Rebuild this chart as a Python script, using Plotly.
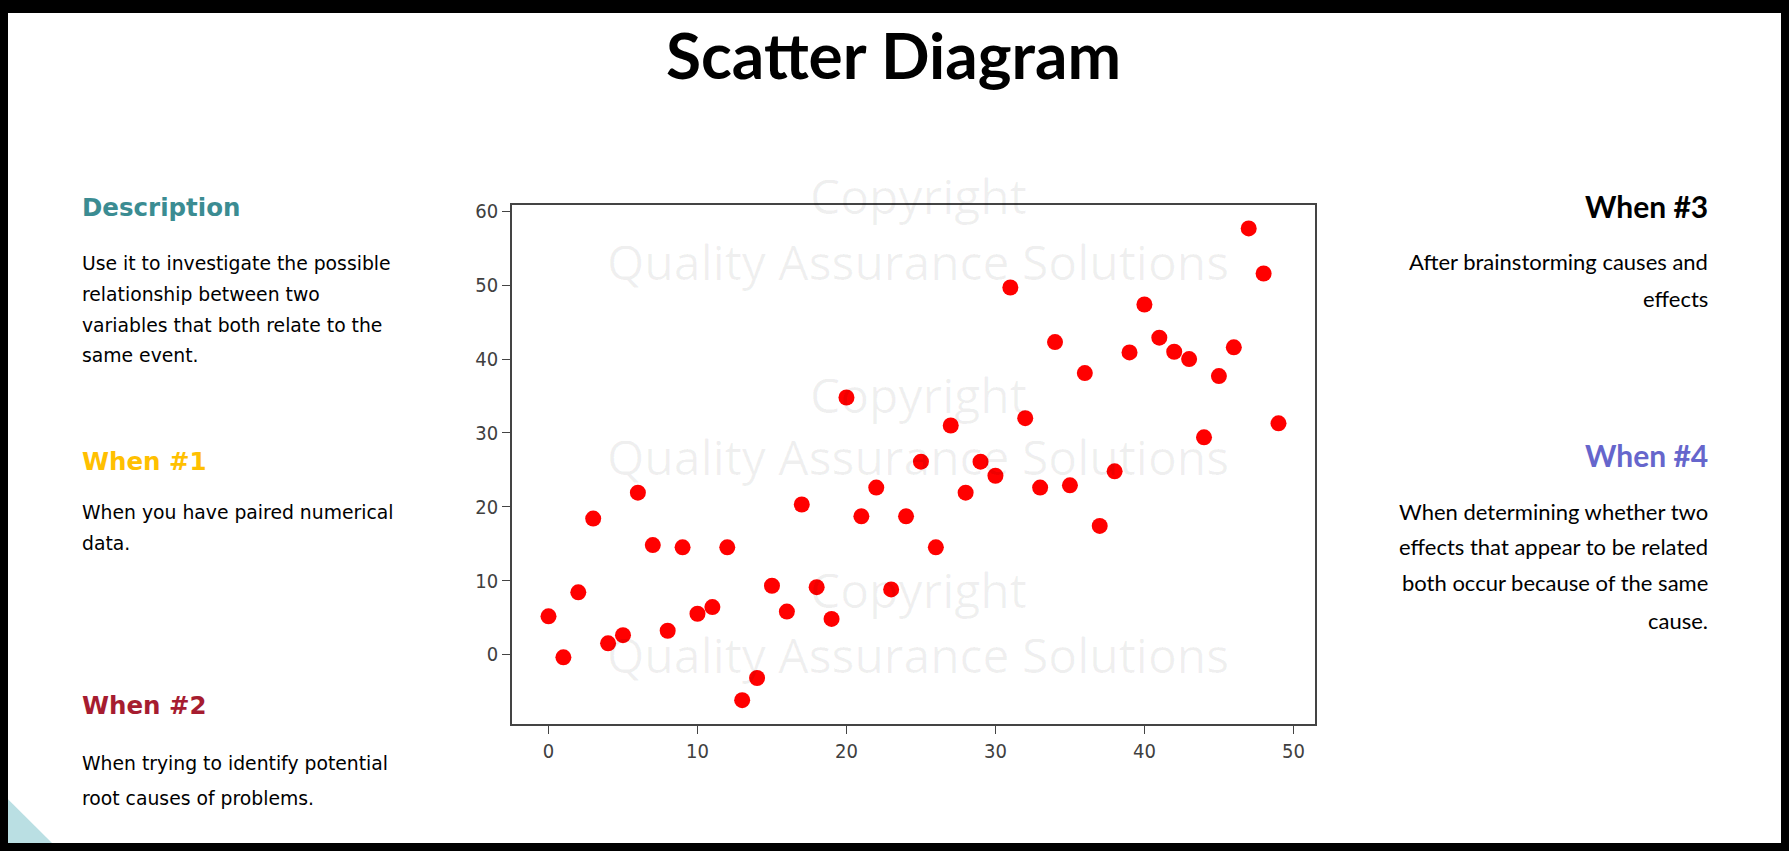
import plotly.graph_objects as go

W, H = 1789, 851

# ---- data ----
x_values = [0, 1, 2, 3, 4, 5, 6, 7, 8, 9, 10, 11, 12, 13, 14, 15, 16, 17, 18, 19,
            20, 21, 22, 23, 24, 25, 26, 27, 28, 29, 30, 31, 32, 33, 34, 35, 36, 37, 38, 39,
            40, 41, 42, 43, 44, 45, 46, 47, 48, 49]
y_values = [5.15, -0.4, 8.4, 18.4, 1.5, 2.6, 21.9, 14.8, 3.2, 14.5,
            5.5, 6.4, 14.5, -6.2, -3.2, 9.3, 5.8, 20.3, 9.1, 4.8,
            34.8, 18.7, 22.6, 8.8, 18.7, 26.1, 14.5, 31.0, 21.9, 26.1,
            24.2, 49.7, 32.0, 22.6, 42.3, 22.9, 38.1, 17.4, 24.8, 40.9,
            47.4, 42.9, 41.0, 40.0, 29.4, 37.7, 41.6, 57.7, 51.6, 31.3]
x_ticks = [0, 10, 20, 30, 40, 50]
y_ticks = [0, 10, 20, 30, 40, 50, 60]

title_text = "Scatter Diagram"
left_blocks = [
    ("Description", "#3B8C92", ["Use it to investigate the possible",
                                "relationship between two",
                                "variables that both relate to the",
                                "same event."]),
    ("When #1", "#FFC000", ["When you have paired numerical", "data."]),
    ("When #2", "#A61C30", ["When trying to identify potential",
                            "root causes of problems."]),
]
right_blocks = [
    ("When #3", "#000000", ["After brainstorming causes and", "effects"]),
    ("When #4", "#6666CC", ["When determining whether two",
                            "effects that appear to be related",
                            "both occur because of the same",
                            "cause."]),
]
watermark = ["Copyright", "Quality Assurance Solutions"]


def px(x):
    return x / W


def py(y):
    return 1 - y / H


fig = go.Figure()
fig.add_trace(go.Scatter(
    x=x_values, y=y_values, mode="markers",
    marker=dict(color="#FF0000", size=16, line=dict(width=0)),
    hoverinfo="x+y", showlegend=False,
))

annotations = []
# title
annotations.append(dict(
    text="<b>" + title_text + "</b>", x=px(893), y=py(50), xref="paper", yref="paper",
    xanchor="center", yanchor="middle", showarrow=False,
    font=dict(family="Lato, Roboto, sans-serif", size=64, color="#000000")))

# left column
left_pos = [(204, [260, 291, 322, 353]), (459, [511, 542]), (705, [763, 798])]
for (head, col, lines), (hy, lys) in zip(left_blocks, left_pos):
    annotations.append(dict(
        text="<b>" + head + "</b>", x=px(80), y=py(hy), xref="paper", yref="paper",
        xanchor="left", yanchor="middle", showarrow=False,
        font=dict(family="DejaVu Sans, Verdana, sans-serif", size=24.5, color=col)))
    for line, ly in zip(lines, lys):
        annotations.append(dict(
            text=line, x=px(80), y=py(ly), xref="paper", yref="paper",
            xanchor="left", yanchor="middle", showarrow=False,
            font=dict(family="DejaVu Sans, Verdana, sans-serif", size=18.8, color="#000000")))

# right column
right_pos = [(202, [258, 295]), (453, [509, 545, 581, 619])]
for (head, col, lines), (hy, lys) in zip(right_blocks, right_pos):
    annotations.append(dict(
        text="<b>" + head + "</b>", x=px(1710), y=py(hy), xref="paper", yref="paper",
        xanchor="right", yanchor="middle", showarrow=False,
        font=dict(family="Lato, Open Sans, sans-serif", size=30, color=col)))
    for line, ly in zip(lines, lys):
        annotations.append(dict(
            text=line, x=px(1710), y=py(ly), xref="paper", yref="paper",
            xanchor="right", yanchor="middle", showarrow=False,
            font=dict(family="Lato, Open Sans, sans-serif", size=22, color="#000000")))

# faint watermark
for cy, qy in [(192, 258), (392, 454), (588, 653)]:
    annotations.append(dict(
        text=watermark[0], x=px(918), y=py(cy), xref="paper", yref="paper",
        xanchor="center", yanchor="middle", showarrow=False,
        font=dict(family="Open Sans, sans-serif", size=48, color="rgba(0,0,0,0.06)")))
    annotations.append(dict(
        text=watermark[1], x=px(918), y=py(qy), xref="paper", yref="paper",
        xanchor="center", yanchor="middle", showarrow=False,
        font=dict(family="Open Sans, sans-serif", size=48, color="rgba(0,0,0,0.06)")))

shapes = [
    # white slide inside black border
    dict(type="rect", xref="paper", yref="paper", x0=px(8), x1=px(1781), y0=py(843), y1=py(8),
         fillcolor="#FFFFFF", line=dict(width=0), layer="below"),
    # light blue corner triangle
    dict(type="path", xref="paper", yref="paper",
         path=f"M {px(8)} {py(799)} L {px(52)} {py(843)} L {px(8)} {py(843)} Z",
         fillcolor="#BADFE3", line=dict(width=0), layer="below"),
]

axis_common = dict(
    showline=True, mirror=True, linecolor="#444444", linewidth=1.6,
    showgrid=False, zeroline=False, ticks="outside", ticklen=8, tickwidth=1.4,
    tickcolor="#444444",
    tickfont=dict(family="DejaVu Sans Condensed, DejaVu Sans, sans-serif", size=20, color="#404040"),
)

fig.update_layout(
    width=W, height=H,
    margin=dict(l=0, r=0, t=0, b=0),
    paper_bgcolor="#000000",
    plot_bgcolor="rgba(0,0,0,0)",
    xaxis=dict(domain=[px(512), px(1315)], range=[-2.45, 51.45], tickvals=x_ticks, **axis_common),
    yaxis=dict(domain=[py(723), py(201)], range=[-9.4, 60.9], tickvals=y_ticks, **axis_common),
    annotations=annotations,
    shapes=shapes,
    showlegend=False,
)

fig.write_html(
    "out.html",
    config={"displayModeBar": False},
    post_script="document.body.style.margin='0';document.body.style.padding='0';"
                "document.body.style.overflow='hidden';document.body.style.background='#000';",
)
